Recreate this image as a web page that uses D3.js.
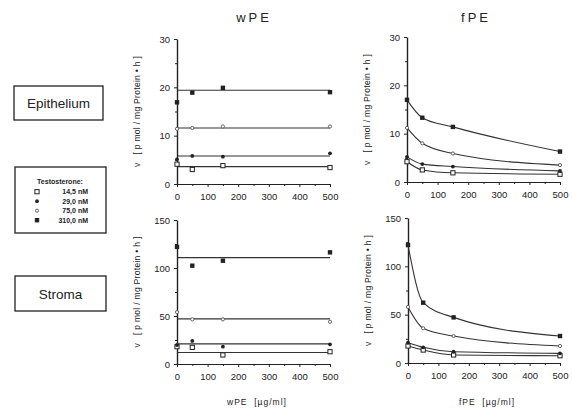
<!DOCTYPE html>
<html>
<head>
<meta charset="utf-8">
<script src="https://cdn.jsdelivr.net/npm/d3@7"></script>
<style>
	body { margin: 0; background: #fff; }
	svg { display: block; font-family: 'Liberation Sans', Arial, sans-serif; }
	.axis path, .axis line { stroke: #222; }
	.axis text { fill: #222; font-size: 9.5px; }
	.pre { white-space: pre; }
</style>
</head>
<body>
<div id="chart"></div>
<script>
// testosterone concentrations, one series each
const concLabels = ['14,5 nM', '29,0 nM', '75,0 nM', '310,0 nM'];
const symbols = ['openSquare', 'dot', 'openCircle', 'square'];

// PE concentration, µg/ml
const peDose = [0, 50, 150, 500];

// epithelium, wPE (points + flat fit level)
const epiW = [
	[4.1, 3.0, 3.8, 3.4],
	[5.1, 5.8, 5.65, 6.35],
	[11.4, 11.6, 11.9, 11.9],
	[16.9, 18.9, 19.9, 19.0]
];
const epiWFit = [3.6, 5.8, 11.6, 19.4];

// epithelium, fPE
const epiF = [
	[4.2, 2.5, 1.9, 1.6],
	[5.2, 3.7, 3.2, 2.3],
	[11.2, 8.0, 5.9, 3.5],
	[17.0, 13.3, 11.4, 6.3]
];

// stroma, wPE
const strW = [
	[18, 17.3, 9.4, 12.8],
	[19.8, 24, 18, 20.5],
	[54, 46.5, 46.5, 44],
	[122, 102.4, 107.6, 116.3]
];
const strWFit = [12, 21, 47, 110.8];

// stroma, fPE
const strF = [
	[17.6, 13.4, 8.3, 7.5],
	[21, 16.2, 11.7, 10],
	[58, 35.9, 27.9, 17.6],
	[122, 62.4, 47.2, 27.9]
];

const yTicksEpi = [0, 10, 20, 30];
const yTicksStr = [0, 50, 100, 150];
const xTicks = [0, 100, 200, 300, 400, 500];

const yLabel = 'v   [ p mol / mg Protein \u2022 h ]';

const svg = d3.select('#chart').append('svg')
	.attr('width', 572)
	.attr('height', 410);

const ink = '#222';

function drawSymbol(g, type, cx, cy) {
	if(type == 'openSquare') {
		g.append('rect').attr('x', cx - 2.1).attr('y', cy - 2.1).attr('width', 4.2).attr('height', 4.2)
		.attr('fill', '#fff').attr('stroke', ink).attr('stroke-width', 1);
	}
	else if(type == 'square') {
		g.append('rect').attr('x', cx - 2.2).attr('y', cy - 2.2).attr('width', 4.4).attr('height', 4.4)
		.attr('fill', ink);
	}
	else if(type == 'dot') {
		g.append('circle').attr('cx', cx).attr('cy', cy).attr('r', 1.9).attr('fill', ink);
	}
	else {
		g.append('circle').attr('cx', cx).attr('cy', cy).attr('r', 1.6)
		.attr('fill', '#fff').attr('stroke', '#555').attr('stroke-width', 0.9);
	}
}

function panel(opts) {
	const x = d3.scaleLinear().domain([0, 500]).range([opts.x0, opts.x1]);
	const y = d3.scaleLinear().domain([0, opts.ymax]).range([opts.y0, opts.y1]);
	const g = svg.append('g');

	// minor ticks
	const yStep = opts.yTicks[1] - opts.yTicks[0];
	g.append('g').attr('class', 'axis').attr('transform', `translate(${opts.x0},0)`)
	.call(d3.axisLeft(y).tickValues(opts.yTicks.slice(1).map((v)=>v - yStep / 2)).tickSize(2).tickFormat(''))
	.call((s)=>s.select('.domain').remove());
	g.append('g').attr('class', 'axis').attr('transform', `translate(0,${opts.y0})`)
	.call(d3.axisBottom(x).tickValues([50, 150, 250, 350, 450]).tickSize(2).tickFormat(''))
	.call((s)=>s.select('.domain').remove());

	g.append('g').attr('class', 'axis').attr('transform', `translate(${opts.x0},0)`)
	.call(d3.axisLeft(y).tickValues(opts.yTicks).tickSize(3).tickSizeOuter(0).tickPadding(4))
	.call((s)=>s.select('.domain').attr('stroke-width', 1.4));
	g.append('g').attr('class', 'axis').attr('transform', `translate(0,${opts.y0})`)
	.call(d3.axisBottom(x).tickValues(xTicks).tickSize(3).tickSizeOuter(0).tickPadding(6))
	.call((s)=>s.select('.domain').attr('stroke-width', 1.2));

	// fit lines
	if(opts.fit) {
		opts.fit.forEach((level)=>{
			g.append('line')
			.attr('x1', x(2)).attr('x2', x(500))
			.attr('y1', y(level)).attr('y2', y(level))
			.attr('stroke', '#333').attr('stroke-width', 1.1);
		});
	}
	else {
		const line = d3.line()
		.x((d, i)=>x(peDose[i]))
		.y((d)=>y(d))
		.curve(d3.curveMonotoneX);
		opts.data.forEach((series)=>{
			g.append('path').attr('d', line(series))
			.attr('fill', 'none').attr('stroke', '#333').attr('stroke-width', 1.1);
		});
	}

	opts.data.forEach((series, si)=>{
		series.forEach((v, i)=>{
			drawSymbol(g, symbols[si], x(peDose[i]), y(v));
		});
	});

	svg.append('text')
	.attr('class', 'pre')
	.attr('transform', `translate(${opts.labelX},${(opts.y0 + opts.y1) / 2}) rotate(-90)`)
	.attr('text-anchor', 'middle')
	.attr('font-size', 8.5)
	.attr('letter-spacing', 0.3)
	.attr('fill', ink)
	.text(yLabel);
}

panel({ x0: 177, x1: 330, y0: 184, y1: 39, ymax: 30, yTicks: yTicksEpi, data: epiW, fit: epiWFit, labelX: 140 });
panel({ x0: 407, x1: 560, y0: 182, y1: 37, ymax: 30, yTicks: yTicksEpi, data: epiF, labelX: 370 });
panel({ x0: 177, x1: 330, y0: 364, y1: 220, ymax: 150, yTicks: yTicksStr, data: strW, fit: strWFit, labelX: 140 });
panel({ x0: 408, x1: 560, y0: 363, y1: 218, ymax: 150, yTicks: yTicksStr, data: strF, labelX: 371 });

// column titles
svg.append('text').attr('x', 254).attr('y', 22).attr('text-anchor', 'middle')
.attr('font-size', 13).attr('letter-spacing', 3).attr('fill', ink).text('wPE');
svg.append('text').attr('x', 476).attr('y', 22).attr('text-anchor', 'middle')
.attr('font-size', 13).attr('letter-spacing', 3).attr('fill', ink).text('fPE');

// x axis titles
svg.append('text').attr('class', 'pre').attr('x', 257).attr('y', 405).attr('text-anchor', 'middle')
.attr('font-size', 8.5).attr('letter-spacing', 1).attr('fill', ink).text('wPE  [µg/ml]');
svg.append('text').attr('class', 'pre').attr('x', 487).attr('y', 405).attr('text-anchor', 'middle')
.attr('font-size', 8.5).attr('letter-spacing', 1).attr('fill', ink).text('fPE  [µg/ml]');

// row boxes
function labelBox(x, y, w, h, text) {
	svg.append('rect').attr('x', x).attr('y', y).attr('width', w).attr('height', h)
	.attr('fill', '#fff').attr('stroke', ink).attr('stroke-width', 1.3);
	svg.append('text').attr('x', x + w / 2).attr('y', y + h / 2 + 5).attr('text-anchor', 'middle')
	.attr('font-size', 13.5).attr('fill', ink).text(text);
}
labelBox(14, 86, 89, 34, 'Epithelium');
labelBox(15, 276, 91, 35, 'Stroma');

// legend
svg.append('rect').attr('x', 15).attr('y', 167).attr('width', 91).attr('height', 66)
.attr('fill', '#fff').attr('stroke', ink).attr('stroke-width', 1.3);
svg.append('text').attr('x', 60).attr('y', 184).attr('text-anchor', 'middle')
.attr('font-size', 7).attr('font-weight', 'bold').attr('fill', ink).text('Testosterone:');
const legendRows = svg.append('g');
concLabels.forEach((label, i)=>{
	const ly = 194 + i * 9.5;
	drawSymbol(legendRows, symbols[i], 37, ly - 2.3);
	legendRows.append('text').attr('x', 88).attr('y', ly).attr('text-anchor', 'end')
	.attr('font-size', 7).attr('font-weight', 'bold').attr('fill', ink).text(label);
});
</script>
</body>
</html>
